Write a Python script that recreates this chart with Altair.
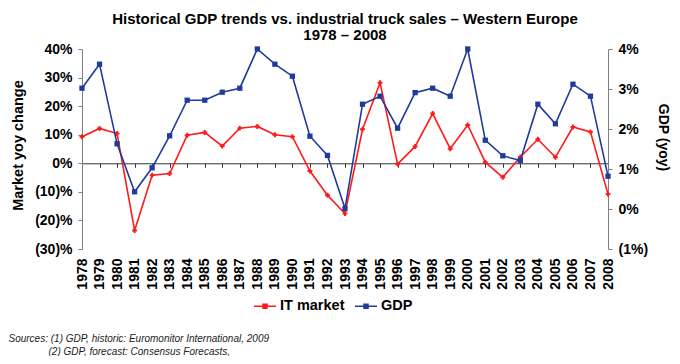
import altair as alt
import pandas as pd

years = list(range(1978, 2009))
it_market = [9.3, 12.2, 10.4, -23.5, -4.2, -3.6, 9.8, 10.8, 6.0, 12.3, 12.9, 10.0, 9.3,
             -2.7, -11.2, -17.6, 11.9, 28.2, -0.3, 5.9, 17.4, 5.1, 13.4, 0.4, -4.9, 2.2,
             8.4, 2.1, 12.7, 11.0, -10.8]
gdp = [3.02, 3.62, 1.63, 0.43, 1.03, 1.83, 2.72, 2.72, 2.92, 3.02, 4.0, 3.62, 3.32,
       1.82, 1.34, 0.01, 2.62, 2.82, 2.02, 2.91, 3.02, 2.82, 4.0, 1.72, 1.33, 1.21,
       2.62, 2.13, 3.12, 2.82, 0.82]
series_names = ["IT market", "GDP"]
left_ticks = [-30, -20, -10, 0, 10, 20, 30, 40]
right_ticks = [-1, 0, 1, 2, 3, 4]
title_lines = ["Historical GDP trends vs. industrial truck sales \u2013 Western Europe", "1978 \u2013 2008"]
source_1 = "Sources: (1) GDP, historic: Euromonitor International, 2009"
source_2 = "(2) GDP, forecast: Consensus Forecasts,"

RED = "#ff1a1a"
BLUE = "#1f3c9c"
AXC = "#7f7f7f"
FONT = "Liberation Sans"

df = pd.DataFrame({"year": [str(y) for y in years], "it": it_market, "gdp": gdp})

color_scale = alt.Scale(domain=series_names, range=[RED, BLUE])
x_scale = alt.Scale(type="point", padding=0)

legend = alt.Legend(
    title=None, orient="none", legendX=171, legendY=245, direction="horizontal",
    symbolType="M-1,0H1M-0.18,-0.18H0.18V0.18H-0.18Z", symbolSize=484,
    symbolStrokeWidth=1.6, labelFontSize=14.5, labelFontWeight="bold", labelFont=FONT,
    labelColor="black", columnPadding=6, labelOffset=3,
)

x_labels = alt.X(
    "year:O", scale=x_scale,
    axis=alt.Axis(
        orient="bottom", labelAngle=-90, domain=False, ticks=False, labelPadding=9,
        labelFontSize=14, labelFontWeight="bold", labelColor="black",
        title=source_1, titleAnchor="start", titleAlign="left", titleBaseline="alphabetic",
        titleX=-74, titleY=92, titleFontStyle="italic", titleFontWeight="normal",
        titleFontSize=10, titleColor="#222222",
    ),
)
x_zero = alt.X(
    "year:O", scale=x_scale,
    axis=alt.Axis(
        orient="bottom", offset=-85.714, labels=False, domain=True, ticks=True,
        tickSize=4, domainColor="#333333", tickColor="#333333",
        title=source_2, titleAnchor="start", titleAlign="left", titleBaseline="alphabetic",
        titleX=-34, titleY=191.7, titleFontStyle="italic", titleFontWeight="normal",
        titleFontSize=10, titleColor="#222222",
    ),
)

y_left = alt.Y(
    "it:Q", scale=alt.Scale(domain=[-30, 40], nice=False, zero=False),
    axis=alt.Axis(
        orient="left", values=left_ticks, grid=False, tickSize=4, labelPadding=6,
        labelExpr="datum.value < 0 ? '(' + abs(datum.value) + ')%' : datum.value + '%'",
        labelFontSize=14, labelFontWeight="bold", labelColor="black",
        domainColor=AXC, tickColor=AXC,
        title="Market yoy change", titleFontSize=14.5, titleFontWeight="bold",
        titleColor="black", titlePadding=9, titleY=96,
    ),
)
y_right = alt.Y(
    "gdp:Q", scale=alt.Scale(domain=[-1, 4], nice=False, zero=False),
    axis=alt.Axis(
        orient="right", values=right_ticks, grid=False, tickSize=4, labelPadding=6,
        labelExpr="datum.value < 0 ? '(' + abs(datum.value) + '%)' : datum.value + '%'",
        labelFontSize=14, labelFontWeight="bold", labelColor="black",
        domainColor=AXC, tickColor=AXC,
        title="GDP (yoy)", titleFontSize=14, titleFontWeight="bold",
        titleColor="black", titlePadding=8, titleY=88,
    ),
)

color_enc = alt.Color("series:N", scale=color_scale, legend=legend)

it_line = alt.Chart(df).transform_calculate(series="'IT market'").mark_line(
    strokeWidth=1.6, point=alt.OverlayMarkDef(shape="cross", size=24, filled=True)
).encode(x=x_labels, y=y_left, color=color_enc)

gdp_line = alt.Chart(df).transform_calculate(series="'GDP'").mark_line(
    strokeWidth=1.6, point=alt.OverlayMarkDef(shape="square", size=28, filled=True)
).encode(x=x_zero, y=y_right, color=color_enc)

chart = alt.layer(it_line, gdp_line).resolve_scale(y="independent").resolve_axis(
    x="independent", y="independent"
).properties(
    width=526, height=200,
    autosize=alt.AutoSizeParams(type="none"),
    padding={"left": 74, "top": 41, "right": 64, "bottom": 107},
    title=alt.TitleParams(
        text=title_lines, fontSize=15, font=FONT, fontWeight="bold", lineHeight=16,
        anchor="middle", offset=-1, color="black",
    ),
).configure_view(stroke=None).configure_axis(
    labelFont=FONT, titleFont=FONT
).configure_legend(labelFont=FONT)

chart.save("out.html", embed_options={"renderer": "svg", "actions": False})
